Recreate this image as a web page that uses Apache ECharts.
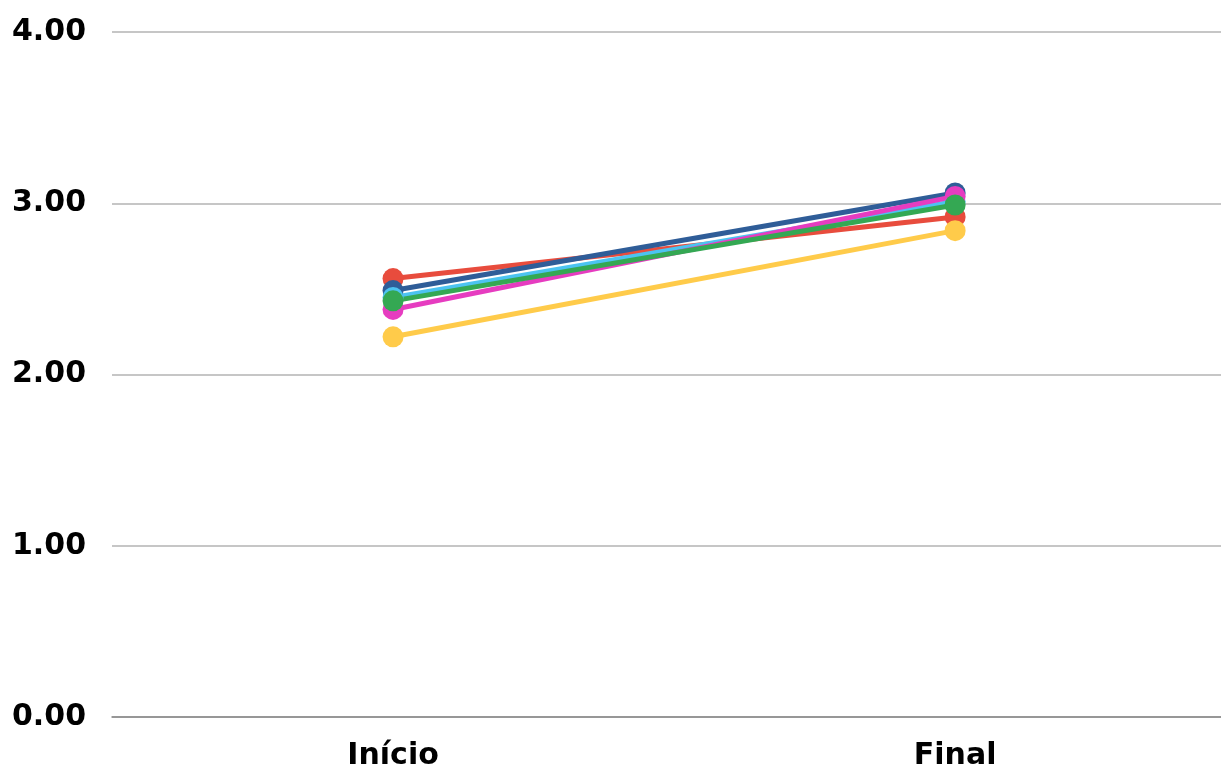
<!DOCTYPE html>
<html>
<head>
<meta charset="utf-8">
<script src="https://cdn.jsdelivr.net/npm/echarts@6/dist/echarts.min.js"></script>
<style>
    html, body { margin: 0; padding: 0; background: #fff; }
    #chart { width: 1221px; height: 771px; }
</style>
</head>
<body>
<div id="chart"></div>
<script>
    // categorias e valores
    const categories = ['Início', 'Final'];
    const serieVermelha = [2.56, 2.92];
    const serieAzulEscura = [2.49, 3.06];
    const serieAzulClara = [2.45, 3.01];
    const serieMagenta = [2.38, 3.04];
    const serieVerde = [2.43, 2.99];
    const serieAmarela = [2.22, 2.84];
    const yTicks = [0, 1, 2, 3, 4];

    const colors = ['#E84C3D', '#2F5D98', '#4CC3F1', '#E63CC0', '#34A853', '#FFCB4A'];

    // eixo x numérico: categoria i fica em x = i
    function makeSeries(name, values) {
        return {
            name: name,
            type: 'line',
            data: values.map((v, i) => [i, v]),
            symbol: 'circle',
            symbolSize: 21,
            lineStyle: { width: 5 },
            emphasis: { disabled: true }
        };
    }

    const option = {
        animation: false,
        color: colors,
        grid: { left: 112, right: 0, top: 32, bottom: 53, containLabel: false },
        xAxis: {
            type: 'value',
            min: -0.5,
            max: 1.473,
            splitLine: { show: false },
            axisLine: { onZero: false, lineStyle: { color: '#888', width: 1.5 } },
            axisTick: { show: false },
            axisLabel: {
                customValues: categories.map((c, i) => i),
                formatter: v => categories[Math.round(v)],
                color: '#000',
                fontFamily: 'DejaVu Sans',
                fontWeight: 'bold',
                fontSize: 30,
                margin: 24
            }
        },
        yAxis: {
            type: 'value',
            min: yTicks[0],
            max: yTicks[yTicks.length - 1],
            interval: 1,
            axisLine: { show: false },
            axisTick: { show: false },
            splitLine: { lineStyle: { color: '#C6C6C6', width: 2 } },
            axisLabel: {
                color: '#000',
                fontFamily: 'DejaVu Sans',
                fontWeight: 'bold',
                fontSize: 30,
                margin: 26,
                formatter: v => v.toFixed(2)
            }
        },
        series: [
            makeSeries('Vermelha', serieVermelha),
            makeSeries('Azul escura', serieAzulEscura),
            makeSeries('Azul clara', serieAzulClara),
            makeSeries('Magenta', serieMagenta),
            makeSeries('Verde', serieVerde),
            makeSeries('Amarela', serieAmarela)
        ]
    };

    echarts.init(document.getElementById('chart')).setOption(option);
</script>
</body>
</html>
